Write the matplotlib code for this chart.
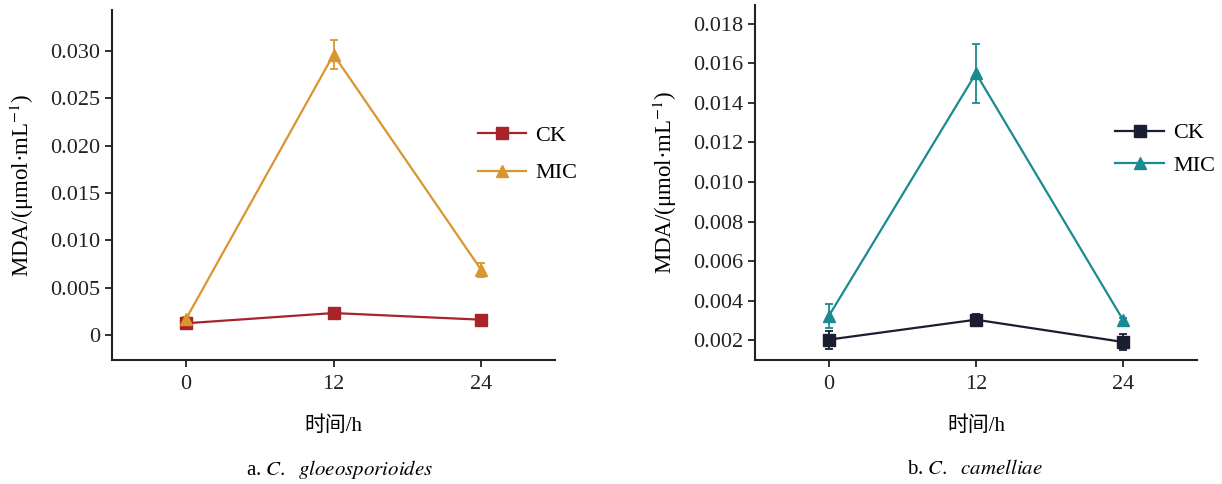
import numpy as np
import matplotlib
matplotlib.use("Agg")
import matplotlib.pyplot as plt

plt.rcParams['font.family'] = ['Liberation Serif', 'Noto Sans CJK SC']
plt.rcParams['mathtext.fontset'] = 'stix'

# Datos
hours = [0, 12, 24]
hour_labels = ['0', '12', '24']

# a. C. gloeosporioides
ck_a = [0.00127, 0.00235, 0.00165]
ck_a_err = [0.0001, 0.0001, 0.0001]
mic_a = [0.0017, 0.0296, 0.0069]
mic_a_err = [0.0002, 0.0015, 0.0007]

# b. C. camelliae
ck_b = [0.00202, 0.00303, 0.00190]
ck_b_err = [0.00045, 0.0003, 0.0004]
mic_b = [0.0032, 0.0155, 0.0030]
mic_b_err = [0.0006, 0.0015, 0.0001]

ylabel = 'MDA/(μmol·mL$^{-1}$)'
xlabel = '时间/h'

fig = plt.figure(figsize=(12.22, 4.84), dpi=100)
ax1 = fig.add_axes([0.0917, 0.2562, 0.3625, 0.7231])
ax2 = fig.add_axes([0.6178, 0.2562, 0.3617, 0.7335])


def draw_panel(ax, ck, ck_err, mic, mic_err, ck_color, mic_color, yticks, ylim,
               legend_anchor, spacing):
    ax.errorbar(hours, ck, yerr=ck_err, fmt='none', ecolor=ck_color,
                capsize=3, elinewidth=1.3, capthick=1.3)
    ax.errorbar(hours, mic, yerr=mic_err, fmt='none', ecolor=mic_color,
                capsize=3, elinewidth=1.3, capthick=1.3)
    ax.plot(hours, ck, color=ck_color, marker='s', markersize=8, linewidth=1.6, label='CK')
    ax.plot(hours, mic, color=mic_color, marker='^', markersize=9, linewidth=1.6, label='MIC')
    ax.set_xlim(-6.0, 30.0)
    ax.set_ylim(*ylim)
    ax.set_xticks(hours)
    ax.set_xticklabels(hour_labels)
    ax.set_yticks(yticks)
    ax.set_yticklabels(['0' if t == 0 else f'{t:.3f}' for t in yticks])
    for s in ['top', 'right']:
        ax.spines[s].set_visible(False)
    for s in ['left', 'bottom']:
        ax.spines[s].set_linewidth(1.5)
        ax.spines[s].set_color('#222222')
    ax.tick_params(direction='out', length=5, width=1.3, labelsize=16, colors='#222222')
    ax.tick_params(axis='x', pad=6)
    ax.set_xlabel(xlabel, fontsize=15, labelpad=16)
    ax.set_ylabel(ylabel, fontsize=16.5, labelpad=10)
    ax.legend(loc='center left', bbox_to_anchor=legend_anchor, frameon=False,
              fontsize=16, handlelength=2.2, labelspacing=spacing, handletextpad=0.4)


draw_panel(ax1, ck_a, ck_a_err, mic_a, mic_a_err, '#a8232a', '#d9952e',
           [0, 0.005, 0.010, 0.015, 0.020, 0.025, 0.030], (-0.0026, 0.0343),
           (0.78, 0.588), 0.78)
draw_panel(ax2, ck_b, ck_b_err, mic_b, mic_b_err, '#1b1d30', '#1a8a92',
           [0.002, 0.004, 0.006, 0.008, 0.010, 0.012, 0.014, 0.016, 0.018],
           (0.00099, 0.01896), (0.77, 0.593), 0.55)

fig.text(0.278, 0.029, 'a. $\\it{C.}$  $\\it{gloeosporioides}$', ha='center', va='center',
         fontsize=15)
fig.text(0.798, 0.029, 'b. $\\it{C.}$  $\\it{camelliae}$', ha='center', va='center',
         fontsize=15)

fig.savefig('out.png', dpi=100)
